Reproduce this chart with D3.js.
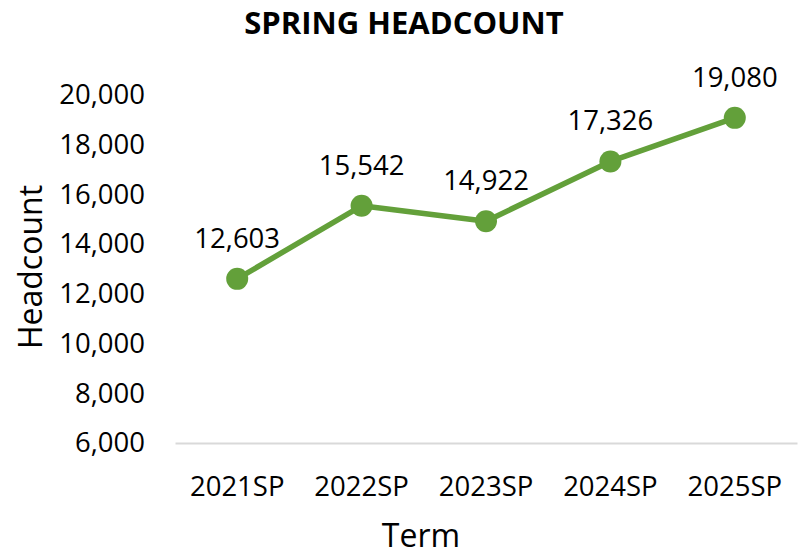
<!DOCTYPE html>
<html>
<head>
<meta charset="utf-8">
<script src="https://cdn.jsdelivr.net/npm/d3@7"></script>
<style>
  body { margin: 0; background: #fff; }
  text { font-family: "Open Sans", sans-serif; fill: #000; }
</style>
</head>
<body>
<div id="chart"></div>
<script>
// values
var terms = ["2021SP", "2022SP", "2023SP", "2024SP", "2025SP"];
var headcount = [12603, 15542, 14922, 17326, 19080];
var yTicks = [6000, 8000, 10000, 12000, 14000, 16000, 18000, 20000];

var W = 800, H = 555;
var margin = {top: 95, right: 3, bottom: 112, left: 175},
    width = W - margin.left - margin.right,
    height = H - margin.top - margin.bottom;

var svg = d3.select("#chart").append("svg")
    .attr("width", W)
    .attr("height", H);

var g = svg.append("g")
    .attr("transform", "translate(" + margin.left + "," + margin.top + ")");

var x = d3.scaleBand()
    .domain(terms)
    .range([0, width]);

var y = d3.scaleLinear()
    .domain([6000, 20000])
    .range([height, 0]);

var fmt = d3.format(",");

// y axis labels (no axis line)
var yAxis = g.append("g")
    .call(d3.axisLeft(y).tickValues(yTicks).tickFormat(fmt).tickSize(0).tickPadding(30));
yAxis.select(".domain").remove();
yAxis.selectAll("text")
    .style("font-size", "27.5px")
    .style("font-family", "'Open Sans', sans-serif");

// x axis
var xAxis = g.append("g")
    .attr("transform", "translate(0," + height + ")")
    .call(d3.axisBottom(x).tickSize(0).tickPadding(33));
xAxis.select(".domain").attr("stroke", "#d9d9d9").attr("stroke-width", 2);
xAxis.selectAll("text")
    .style("font-size", "27.5px")
    .style("font-family", "'Open Sans', sans-serif");

var data = terms.map(function(t, i) { return {term: t, value: headcount[i]}; });

var line = d3.line()
    .x(function(d) { return x(d.term) + x.bandwidth() / 2; })
    .y(function(d) { return y(d.value); });

g.append("path")
    .datum(data)
    .attr("fill", "none")
    .attr("stroke", "#63a03a")
    .attr("stroke-width", 5.5)
    .attr("stroke-linejoin", "round")
    .attr("d", line);

g.selectAll("circle.pt")
    .data(data)
    .enter()
    .append("circle")
    .attr("class", "pt")
    .attr("cx", function(d) { return x(d.term) + x.bandwidth() / 2; })
    .attr("cy", function(d) { return y(d.value); })
    .attr("r", 11)
    .attr("fill", "#63a03a");

g.selectAll("text.lbl")
    .data(data)
    .enter()
    .append("text")
    .attr("class", "lbl")
    .attr("x", function(d) { return x(d.term) + x.bandwidth() / 2; })
    .attr("y", function(d) { return y(d.value) - 31; })
    .attr("text-anchor", "middle")
    .style("font-size", "27.5px")
    .text(function(d) { return fmt(d.value); });

// title
svg.append("text")
    .attr("x", 404)
    .attr("y", 34)
    .attr("text-anchor", "middle")
    .style("font-size", "31px")
    .style("font-weight", "bold")
    .text("SPRING HEADCOUNT");

// axis titles
svg.append("text")
    .attr("x", 421)
    .attr("y", 547)
    .attr("text-anchor", "middle")
    .style("font-size", "32px")
    .text("Term");

svg.append("text")
    .attr("transform", "translate(42,267) rotate(-90)")
    .attr("text-anchor", "middle")
    .style("font-size", "32px")
    .text("Headcount");
</script>
</body>
</html>
